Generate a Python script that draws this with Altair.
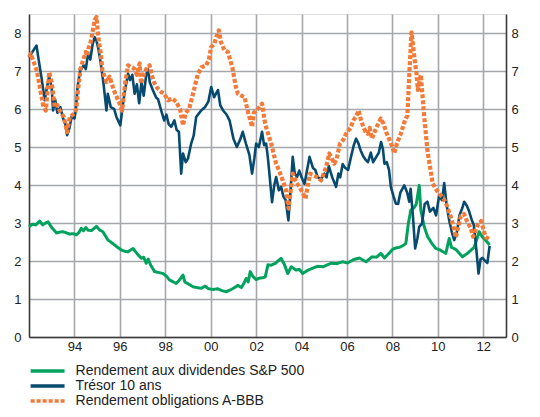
import altair as alt
import pandas as pd

S_SP = "Rendement aux dividendes S&P 500"
S_TR = "Trésor 10 ans"
S_AB = "Rendement obligations A-BBB"

# S&P 500 dividend yield
sp_t = [1992.00, 1992.15, 1992.30, 1992.47, 1992.60, 1992.70, 1992.84, 1993.00, 1993.21, 1993.35,
        1993.50, 1993.65, 1993.79, 1993.95, 1994.09, 1994.20, 1994.30, 1994.40, 1994.50, 1994.60,
        1994.75, 1994.97, 1995.10, 1995.25, 1995.48, 1995.60, 1995.77, 1995.90, 1996.07, 1996.20,
        1996.35, 1996.58, 1996.75, 1996.95, 1997.05, 1997.16, 1997.25, 1997.35, 1997.53, 1997.70,
        1997.90, 1998.05, 1998.19, 1998.35, 1998.48, 1998.60, 1998.78, 1998.86, 1999.00, 1999.22,
        1999.40, 1999.58, 1999.75, 1999.90, 2000.10, 2000.30, 2000.50, 2000.68, 2000.90, 2001.05,
        2001.20, 2001.35, 2001.45, 2001.56, 2001.65, 2001.74, 2001.85, 2002.00, 2002.15, 2002.30,
        2002.40, 2002.52, 2002.66, 2002.85, 2003.10, 2003.25, 2003.39, 2003.55, 2003.75, 2003.90,
        2004.05, 2004.25, 2004.45, 2004.70, 2004.95, 2005.30, 2005.55, 2005.80, 2006.03, 2006.30,
        2006.55, 2006.84, 2007.10, 2007.30, 2007.49, 2007.65, 2007.85, 2008.00, 2008.08, 2008.30,
        2008.45, 2008.59, 2008.70, 2008.81, 2008.95, 2009.05, 2009.18, 2009.25, 2009.40, 2009.55,
        2009.75, 2009.91, 2010.10, 2010.35, 2010.50, 2010.60, 2010.80, 2011.08, 2011.30, 2011.60,
        2011.82, 2011.95, 2012.10, 2012.28]
sp_v = [2.90, 2.97, 2.95, 3.05, 2.95, 2.99, 3.03, 2.88, 2.74, 2.76,
        2.77, 2.74, 2.71, 2.72, 2.69, 2.75, 2.86, 2.80, 2.88, 2.81,
        2.80, 2.91, 2.82, 2.77, 2.55, 2.50, 2.42, 2.36, 2.29, 2.26,
        2.24, 2.33, 2.20, 2.07, 2.10, 1.94, 2.05, 1.90, 1.72, 1.70,
        1.67, 1.60, 1.50, 1.45, 1.41, 1.48, 1.63, 1.45, 1.40, 1.32,
        1.30, 1.28, 1.34, 1.27, 1.25, 1.27, 1.22, 1.19, 1.25, 1.30,
        1.36, 1.30, 1.40, 1.54, 1.45, 1.72, 1.60, 1.51, 1.55, 1.56,
        1.58, 1.90, 1.89, 1.94, 2.07, 1.90, 1.67, 1.85, 1.76, 1.78,
        1.67, 1.75, 1.80, 1.86, 1.85, 1.94, 1.93, 1.98, 1.95, 2.04,
        2.08, 1.98, 2.11, 2.10, 2.20, 2.08, 2.20, 2.30, 2.33, 2.36,
        2.40, 2.46, 2.98, 3.34, 3.40, 3.50, 3.99, 3.34, 2.90, 2.64,
        2.45, 2.33, 2.29, 2.20, 2.59, 2.36, 2.30, 2.11, 2.20, 2.36,
        2.77, 2.64, 2.55, 2.42]

# 10-year Treasury yield
tr_t = [1992.00, 1992.10, 1992.20, 1992.33, 1992.45, 1992.55, 1992.69, 1992.80, 1992.89, 1993.00,
        1993.06, 1993.15, 1993.25, 1993.38, 1993.50, 1993.60, 1993.68, 1993.78, 1993.88, 1994.00,
        1994.06, 1994.14, 1994.25, 1994.41, 1994.50, 1994.60, 1994.70, 1994.80, 1994.89, 1994.97,
        1995.05, 1995.14, 1995.28, 1995.41, 1995.47, 1995.60, 1995.75, 1995.85, 1996.02, 1996.10,
        1996.20, 1996.36, 1996.45, 1996.55, 1996.65, 1996.75, 1996.85, 1996.95, 1997.05, 1997.16,
        1997.24, 1997.32, 1997.45, 1997.60, 1997.68, 1997.82, 1997.95, 1998.05, 1998.15, 1998.26,
        1998.40, 1998.50, 1998.60, 1998.70, 1998.78, 1998.90, 1999.00, 1999.14, 1999.25, 1999.36,
        1999.50, 1999.58, 1999.75, 1999.90, 2000.02, 2000.15, 2000.32, 2000.42, 2000.55, 2000.70,
        2000.83, 2001.00, 2001.15, 2001.30, 2001.41, 2001.55, 2001.70, 2001.82, 2001.92, 2002.00,
        2002.12, 2002.26, 2002.35, 2002.44, 2002.52, 2002.60, 2002.70, 2002.80, 2002.88, 2003.00,
        2003.10, 2003.20, 2003.30, 2003.42, 2003.52, 2003.61, 2003.70, 2003.80, 2003.90, 2004.00,
        2004.13, 2004.35, 2004.50, 2004.60, 2004.71, 2004.85, 2005.00, 2005.10, 2005.20, 2005.35,
        2005.52, 2005.62, 2005.70, 2005.81, 2005.92, 2006.05, 2006.18, 2006.30, 2006.40, 2006.50,
        2006.60, 2006.72, 2006.84, 2006.92, 2007.05, 2007.15, 2007.25, 2007.40, 2007.50, 2007.58,
        2007.65, 2007.75, 2007.85, 2007.93, 2008.05, 2008.15, 2008.25, 2008.35, 2008.52, 2008.65,
        2008.74, 2008.80, 2008.90, 2009.00, 2009.10, 2009.18, 2009.30, 2009.42, 2009.54, 2009.65,
        2009.80, 2009.92, 2010.06, 2010.18, 2010.28, 2010.38, 2010.50, 2010.62, 2010.72, 2010.85,
        2010.95, 2011.08, 2011.16, 2011.28, 2011.38, 2011.48, 2011.58, 2011.67, 2011.79, 2011.88,
        2011.96, 2012.08, 2012.18, 2012.28]
tr_v = [7.35, 7.45, 7.55, 7.67, 7.20, 6.83, 6.23, 6.60, 6.86, 6.55,
        5.96, 6.25, 5.90, 6.05, 5.75, 5.60, 5.31, 5.50, 5.80, 5.75,
        5.96, 6.60, 7.00, 7.15, 7.05, 7.45, 7.30, 7.70, 7.89, 7.80,
        7.60, 7.28, 6.67, 5.96, 6.40, 6.05, 6.00, 5.79, 5.57, 5.96,
        6.40, 6.93, 6.76, 6.90, 6.40, 6.65, 6.15, 6.70, 6.35, 6.90,
        7.05, 6.70, 6.50, 6.30, 6.26, 5.96, 5.70, 5.85, 5.60, 5.53,
        5.70, 5.45, 5.40, 4.30, 4.83, 4.60, 4.70, 5.09, 5.30, 5.79,
        5.90, 5.96, 6.05, 6.20, 6.58, 6.31, 6.50, 6.10, 5.96, 5.85,
        5.70, 5.22, 5.00, 5.20, 5.40, 5.09, 4.80, 4.30, 4.70, 5.09,
        5.00, 5.40, 5.05, 5.09, 4.70, 4.20, 3.55, 4.00, 4.21, 3.86,
        3.95, 3.70, 3.60, 3.07, 3.90, 4.74, 4.30, 4.21, 4.38, 4.20,
        4.03, 4.74, 4.45, 4.40, 4.21, 4.15, 4.30, 4.20, 4.50, 4.20,
        3.95, 4.30, 4.20, 4.55, 4.45, 4.40, 4.75, 5.05, 5.22, 5.10,
        4.91, 4.75, 4.65, 4.60, 4.85, 4.60, 4.70, 4.85, 5.13, 4.95,
        4.56, 4.60, 4.40, 3.95, 3.70, 3.51, 3.50, 3.80, 3.99, 3.80,
        3.56, 3.90, 3.20, 2.33, 2.60, 2.90, 2.98, 3.50, 3.56, 3.30,
        3.40, 3.20, 3.73, 3.60, 4.05, 3.50, 3.07, 2.75, 2.55, 2.80,
        3.20, 3.40, 3.56, 3.45, 3.30, 3.10, 2.95, 2.46, 1.67, 2.05,
        2.08, 2.00, 1.95, 2.40]

# A-BBB corporate bond yield
ab_t = [1992.00, 1992.08, 1992.20, 1992.35, 1992.50, 1992.62, 1992.74, 1992.82, 1992.89, 1993.00,
        1993.13, 1993.25, 1993.35, 1993.53, 1993.68, 1993.80, 1994.00, 1994.08, 1994.16, 1994.26,
        1994.38, 1994.50, 1994.56, 1994.62, 1994.70, 1994.82, 1994.90, 1994.97, 1995.05, 1995.15,
        1995.23, 1995.41, 1995.55, 1995.73, 1995.99, 1996.10, 1996.24, 1996.36, 1996.50, 1996.62,
        1996.75, 1996.87, 1996.93, 1997.05, 1997.20, 1997.31, 1997.40, 1997.53, 1997.65, 1997.82,
        1997.95, 1998.12, 1998.30, 1998.48, 1998.65, 1998.78, 1998.90, 1999.05, 1999.22, 1999.44,
        1999.60, 1999.80, 1999.92, 2000.02, 2000.15, 2000.25, 2000.36, 2000.45, 2000.60, 2000.76,
        2000.95, 2001.10, 2001.20, 2001.35, 2001.49, 2001.65, 2001.82, 2001.90, 2002.00, 2002.15,
        2002.26, 2002.40, 2002.66, 2002.88, 2003.00, 2003.17, 2003.30, 2003.43, 2003.55, 2003.61,
        2003.75, 2003.90, 2004.05, 2004.17, 2004.37, 2004.55, 2004.70, 2004.86, 2005.08, 2005.22,
        2005.44, 2005.55, 2005.69, 2005.85, 2005.96, 2006.15, 2006.28, 2006.40, 2006.51, 2006.62,
        2006.72, 2006.82, 2006.91, 2007.00, 2007.10, 2007.25, 2007.40, 2007.49, 2007.62, 2007.72,
        2007.86, 2008.00, 2008.08, 2008.20, 2008.37, 2008.55, 2008.66, 2008.75, 2008.84, 2008.92,
        2009.00, 2009.06, 2009.12, 2009.25, 2009.40, 2009.54, 2009.77, 2009.95, 2010.10, 2010.25,
        2010.40, 2010.57, 2010.70, 2010.79, 2010.90, 2011.01, 2011.15, 2011.28, 2011.45, 2011.55,
        2011.60, 2011.75, 2011.90, 2012.00, 2012.10, 2012.26]
ab_v = [7.36, 7.45, 7.25, 7.00, 6.50, 6.10, 5.96, 6.50, 6.97, 6.70,
        6.05, 6.10, 5.96, 5.79, 5.39, 5.80, 5.88, 6.00, 6.50, 7.05,
        7.28, 7.50, 7.40, 7.60, 7.72, 8.10, 8.35, 8.42, 7.90, 7.50,
        7.02, 6.71, 6.85, 6.50, 6.14, 5.96, 6.71, 7.15, 7.10, 7.07,
        6.90, 7.20, 6.67, 6.90, 7.10, 7.15, 6.90, 6.67, 6.55, 6.45,
        6.40, 6.23, 6.28, 6.19, 6.00, 5.57, 5.90, 6.00, 6.40, 6.93,
        7.10, 7.15, 7.30, 7.63, 7.70, 7.90, 8.07, 7.76, 7.55, 7.50,
        7.10, 6.60, 6.40, 6.35, 6.31, 5.90, 5.53, 5.90, 5.96, 6.05,
        6.14, 5.60, 5.09, 4.56, 4.40, 4.12, 3.90, 3.38, 4.00, 4.30,
        4.10, 3.95, 3.80, 3.64, 4.30, 4.25, 4.20, 4.12, 4.47, 4.83,
        4.56, 4.70, 5.09, 5.20, 5.35, 5.50, 5.70, 5.80, 5.96, 5.70,
        5.53, 5.40, 5.35, 5.50, 5.22, 5.45, 5.65, 5.75, 5.60, 5.40,
        5.20, 5.00, 4.83, 5.10, 5.35, 5.70, 5.83, 7.00, 8.02, 7.60,
        7.20, 6.93, 6.50, 6.90, 5.79, 4.91, 4.04, 3.86, 3.75, 3.65,
        3.45, 3.16, 2.86, 2.62, 2.90, 3.18, 3.24, 3.05, 2.86, 2.64,
        2.70, 2.95, 3.05, 2.85, 2.63, 2.58]

SERIES = [S_SP, S_TR, S_AB]
COLORS = ["#00a25e", "#064a70", "#f47a38"]
DASHES = [[1, 0], [1, 0], [4, 2]]
WIDTHS = [3.0, 2.6, 4.2]

frames = []
for name, ts, vs in [(S_SP, sp_t, sp_v), (S_TR, tr_t, tr_v), (S_AB, ab_t, ab_v)]:
    frames.append(pd.DataFrame({"t": ts, "v": vs, "serie": name}))

x_ticks = [1994, 1996, 1998, 2000, 2002, 2004, 2006, 2008, 2010, 2012]
y_ticks = [0, 1, 2, 3, 4, 5, 6, 7, 8]

FONT = "Liberation Sans"
GRID = "#a5a7aa"
DOMAIN = "#3a3a3a"

x_scale = alt.Scale(domain=[1992, 2013], nice=False, zero=False)
x_axis = alt.Axis(values=x_ticks, title=None, ticks=False, grid=True,
                  gridColor=GRID, gridWidth=1.6, domainColor=DOMAIN, domainWidth=1.6,
                  labelExpr="(datum.value % 100) < 10 ? '0' + (datum.value % 100) : '' + (datum.value % 100)",
                  labelFont=FONT, labelFontSize=13, labelColor="#222", labelPadding=3)
y_scale = alt.Scale(domain=[0, 8.5], nice=False)
left_axis = alt.Axis(values=y_ticks, title=None, ticks=False, grid=True,
                     gridColor=GRID, gridWidth=1.6, domainColor=DOMAIN, domainWidth=1.6,
                     labelFont=FONT, labelFontSize=13, labelColor="#222", labelPadding=8)
right_axis_def = alt.Axis(values=y_ticks, title=None, ticks=False, grid=False, orient="right",
                          domainColor=DOMAIN, domainWidth=1.6,
                          labelFont=FONT, labelFontSize=13, labelColor="#222", labelPadding=5)

color_enc = alt.Color("serie:N", scale=alt.Scale(domain=SERIES, range=COLORS),
                      legend=alt.Legend(title=None, orient="none", legendX=11.6, legendY=350,
                                        symbolType="M-5,0H5", symbolSize=46, symbolStrokeWidth=3.5,
                                        labelFont=FONT, labelFontSize=14, labelColor="#222",
                                        labelOffset=21, rowPadding=1, labelLimit=400))
dash_enc = alt.StrokeDash("serie:N", scale=alt.Scale(domain=SERIES, range=DASHES), legend=None)

layers = []
for i, f in enumerate(frames):
    layers.append(
        alt.Chart(f).mark_line(strokeWidth=WIDTHS[i], strokeJoin="round").encode(
            x=alt.X("t:Q", scale=x_scale, axis=x_axis),
            y=alt.Y("v:Q", scale=y_scale, axis=left_axis),
            color=color_enc,
            strokeDash=dash_enc,
            order=alt.Order("t:Q"),
        )
    )

left = alt.layer(*layers)

right = alt.Chart(frames[1]).mark_line(opacity=0).encode(
    x=alt.X("t:Q", scale=x_scale, axis=x_axis),
    y=alt.Y("v:Q", scale=y_scale, axis=right_axis_def),
)

chart = alt.layer(left, right).resolve_axis(y="independent").properties(
    width=477, height=323,
    autosize=alt.AutoSizeParams(type="none"),
    padding={"left": 21, "top": 6, "right": 26, "bottom": 72},
).configure_view(stroke=GRID, strokeWidth=1.6).configure(background="white")

chart.save("out.html", embed_options={"renderer": "svg", "actions": False})
